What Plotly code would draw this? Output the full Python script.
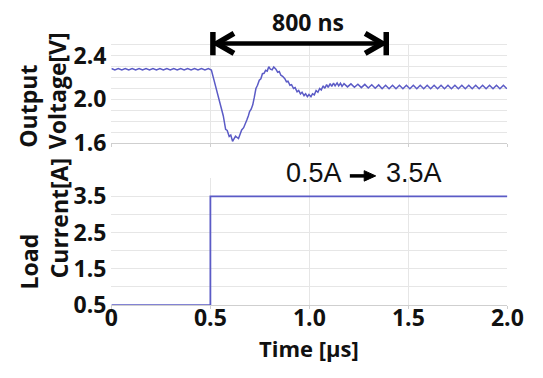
import plotly.graph_objects as go

W, H = 543, 378

# ---------------- data ----------------
t_pre = [0, 0.0175, 0.035, 0.0525, 0.07, 0.0875, 0.105, 0.1225, 0.14, 0.1575,
         0.175, 0.1925, 0.21, 0.2275, 0.245, 0.2625, 0.28, 0.2975, 0.315, 0.3325,
         0.35, 0.3675, 0.385, 0.4025, 0.42, 0.4375, 0.455, 0.4725, 0.49, 0.5]
v_pre = [2.284, 2.271, 2.284, 2.271, 2.284, 2.271, 2.284, 2.271, 2.284, 2.271,
         2.284, 2.271, 2.284, 2.271, 2.284, 2.271, 2.284, 2.271, 2.284, 2.271,
         2.284, 2.271, 2.284, 2.271, 2.284, 2.271, 2.284, 2.271, 2.284, 2.278]

t_tr = [0.505, 0.515, 0.525, 0.535, 0.545, 0.555, 0.565, 0.577, 0.585, 0.595,
        0.603, 0.612, 0.620, 0.627, 0.635, 0.642, 0.650, 0.658, 0.668, 0.676,
        0.684, 0.692, 0.698, 0.706, 0.714, 0.722, 0.730, 0.738, 0.747, 0.755,
        0.763, 0.771, 0.779, 0.787, 0.795, 0.803, 0.812, 0.820, 0.830, 0.840,
        0.848, 0.856, 0.865, 0.876, 0.884, 0.892, 0.902, 0.910, 0.920, 0.928,
        0.938, 0.946, 0.955, 0.963, 0.973, 0.981, 0.990, 0.998, 1.008, 1.016,
        1.025, 1.034, 1.043, 1.052, 1.060, 1.070, 1.078, 1.087, 1.095, 1.105,
        1.113, 1.122, 1.130, 1.140, 1.148, 1.157, 1.165, 1.175]
v_tr = [2.27, 2.20, 2.13, 2.065, 1.99, 1.925, 1.85, 1.725, 1.715, 1.66,
        1.672, 1.615, 1.64, 1.662, 1.650, 1.640, 1.68, 1.72, 1.74, 1.77,
        1.81, 1.85, 1.888, 1.91, 1.95, 2.02, 2.10, 2.13, 2.176, 2.19,
        2.236, 2.24, 2.267, 2.26, 2.30, 2.278, 2.272, 2.298, 2.28, 2.25,
        2.256, 2.222, 2.212, 2.19, 2.162, 2.168, 2.13, 2.136, 2.10, 2.108,
        2.07, 2.082, 2.05, 2.066, 2.035, 2.052, 2.025, 2.045, 2.025, 2.052,
        2.042, 2.082, 2.066, 2.10, 2.087, 2.125, 2.102, 2.136, 2.11, 2.145,
        2.12, 2.15, 2.125, 2.152, 2.124, 2.148, 2.12, 2.145]

t_ss = [1.1925, 1.21, 1.2275, 1.245, 1.2625, 1.28, 1.2975, 1.315, 1.3325, 1.35,
        1.3675, 1.385, 1.4025, 1.42, 1.4375, 1.455, 1.4725, 1.49, 1.5075, 1.525,
        1.5425, 1.56, 1.5775, 1.595, 1.6125, 1.63, 1.6475, 1.665, 1.6825, 1.70,
        1.7175, 1.735, 1.7525, 1.77, 1.7875, 1.805, 1.8225, 1.84, 1.8575, 1.875,
        1.8925, 1.91, 1.9275, 1.945, 1.9625, 1.98, 1.9975]
v_ss = [2.115, 2.143, 2.112, 2.140, 2.108, 2.138, 2.105, 2.135, 2.102, 2.133,
        2.098, 2.130, 2.098, 2.130, 2.098, 2.130, 2.098, 2.130, 2.098, 2.130,
        2.098, 2.130, 2.098, 2.130, 2.098, 2.130, 2.098, 2.130, 2.098, 2.130,
        2.098, 2.130, 2.098, 2.130, 2.098, 2.130, 2.098, 2.130, 2.098, 2.130,
        2.098, 2.130, 2.098, 2.130, 2.098, 2.130, 2.098]

t_current = [0, 0.5, 0.5, 2.0]
i_current = [0.5, 0.5, 3.5, 3.5]

x_ticks = [0, 0.5, 1.0, 1.5, 2.0]
x_ticktext = ["0", "0.5", "1.0", "1.5", "2.0"]
v_ticks = [1.6, 2.0, 2.4]
v_ticktext = ["1.6", "2.0", "2.4"]
i_ticks = [0.5, 1.5, 2.5, 3.5]
i_ticktext = ["0.5", "1.5", "2.5", "3.5"]

t_voltage = t_pre + t_tr + t_ss
v_voltage = v_pre + v_tr + v_ss

# ---------------- styling ----------------
LINE = "#5b5bc6"
GRID = "#e6e6e6"
AXIS = "#cfcfcf"
FONT = "Open Sans"
FS = 23


def px(x):
    return x / W


def py(y):
    return 1 - y / H


X0, X1 = 109, 522.5
xdom = [px(X0), px(X1)]

fig = go.Figure()
fig.add_trace(go.Scatter(x=t_voltage, y=v_voltage, mode="lines",
                         line=dict(color=LINE, width=1.5), xaxis="x", yaxis="y",
                         showlegend=False))
fig.add_trace(go.Scatter(x=t_current, y=i_current, mode="lines",
                         line=dict(color=LINE, width=1.8), xaxis="x2", yaxis="y2",
                         showlegend=False))

tickfont = dict(family=FONT, size=FS, weight="bold", color="#111")
common_x = dict(range=[0, 2.0], tickvals=x_ticks, showgrid=True, gridcolor=GRID,
                gridwidth=1, zeroline=False, showline=True, linecolor=AXIS,
                linewidth=1, ticks="outside", ticklen=3, tickcolor=AXIS,
                domain=xdom, fixedrange=True)

fig.update_layout(
    width=W, height=H,
    margin=dict(l=0, r=0, t=0, b=0),
    paper_bgcolor="white", plot_bgcolor="white",
    font=dict(family=FONT, color="#111111"),
    xaxis=dict(**common_x, showticklabels=False, anchor="y"),
    yaxis=dict(range=[1.6, 2.51], domain=[py(146.3), py(42)], tickvals=v_ticks,
               ticktext=v_ticktext,
               showgrid=True, gridcolor=GRID, zeroline=False, showline=False,
               minor=dict(tick0=1.6, dtick=0.1, showgrid=True, gridcolor=GRID),
               tickfont=tickfont, ticks="", ticklabelstandoff=4, anchor="x"),
    xaxis2=dict(**common_x, anchor="y2", ticktext=x_ticktext, tickfont=tickfont,
                ticklabelstandoff=-11),
    yaxis2=dict(range=[0.5, 4.0], domain=[py(317), py(183.5)], tickvals=i_ticks,
                ticktext=i_ticktext,
                showgrid=True, gridcolor=GRID, zeroline=False, showline=False,
                minor=dict(tick0=0.5, dtick=0.5, showgrid=True, gridcolor=GRID),
                tickfont=tickfont, ticks="", ticklabelstandoff=4, anchor="x2"),
)

ann = []


def label(text, x, y, size=FS, angle=0, bold=True, family=FONT, xanchor="center", yanchor="middle"):
    ann.append(dict(text=(f"<b>{text}</b>" if bold else text), x=px(x), y=py(y),
                    xref="paper", yref="paper", showarrow=False, textangle=angle,
                    xanchor=xanchor, yanchor=yanchor,
                    font=dict(family=family, size=size, color="#111111")))


# axis titles
label("Output", 21, 108, angle=-90)
label("Voltage[V]", 53, 91, angle=-90)
label("Load", 23, 271, angle=-90)
label("Current[A]", 54, 226, angle=-90)
label("Time [µs]", (X0 + X1) / 2, 362, size=22)

# annotations
label("800 ns", 314, 19)
label("0.5A", 321, 178, size=27, bold=False, family="Liberation Sans")
label("3.5A", 425, 178, size=27, bold=False, family="Liberation Sans")
fig.update_layout(annotations=ann)

shapes = []


def seg(x0, y0, x1, y1, w):
    shapes.append(dict(type="line", xref="paper", yref="paper",
                       x0=px(x0), y0=py(y0), x1=px(x1), y1=py(y1),
                       line=dict(color="black", width=w)))


def path(points, w):
    d = "M " + " L ".join(f"{px(a)},{py(b)}" for a, b in points)
    shapes.append(dict(type="path", xref="paper", yref="paper", path=d,
                       line=dict(color="black", width=w)))


# 800 ns double arrow
AL, AR, AY = 215, 396, 41.5
seg(AL + 2, AY, AR - 2, AY, 4.5)
seg(AL, 29.5, AL, 54, 5.5)
seg(AR, 29.5, AR, 54, 5.5)
path([(AL + 22, 31), (AL + 4, AY), (AL + 22, 52)], 5.5)
path([(AR - 22, 31), (AR - 4, AY), (AR - 22, 52)], 5.5)

# small arrow 0.5A -> 3.5A
seg(358, 181, 376, 181, 3.5)
shapes.append(dict(type="path", xref="paper", yref="paper",
                   path=f"M {px(373)},{py(175.5)} L {px(385)},{py(181)} L {px(373)},{py(186.5)} Z",
                   fillcolor="black", line=dict(color="black", width=1)))

fig.update_layout(shapes=shapes)

fig.write_html("out.html")
